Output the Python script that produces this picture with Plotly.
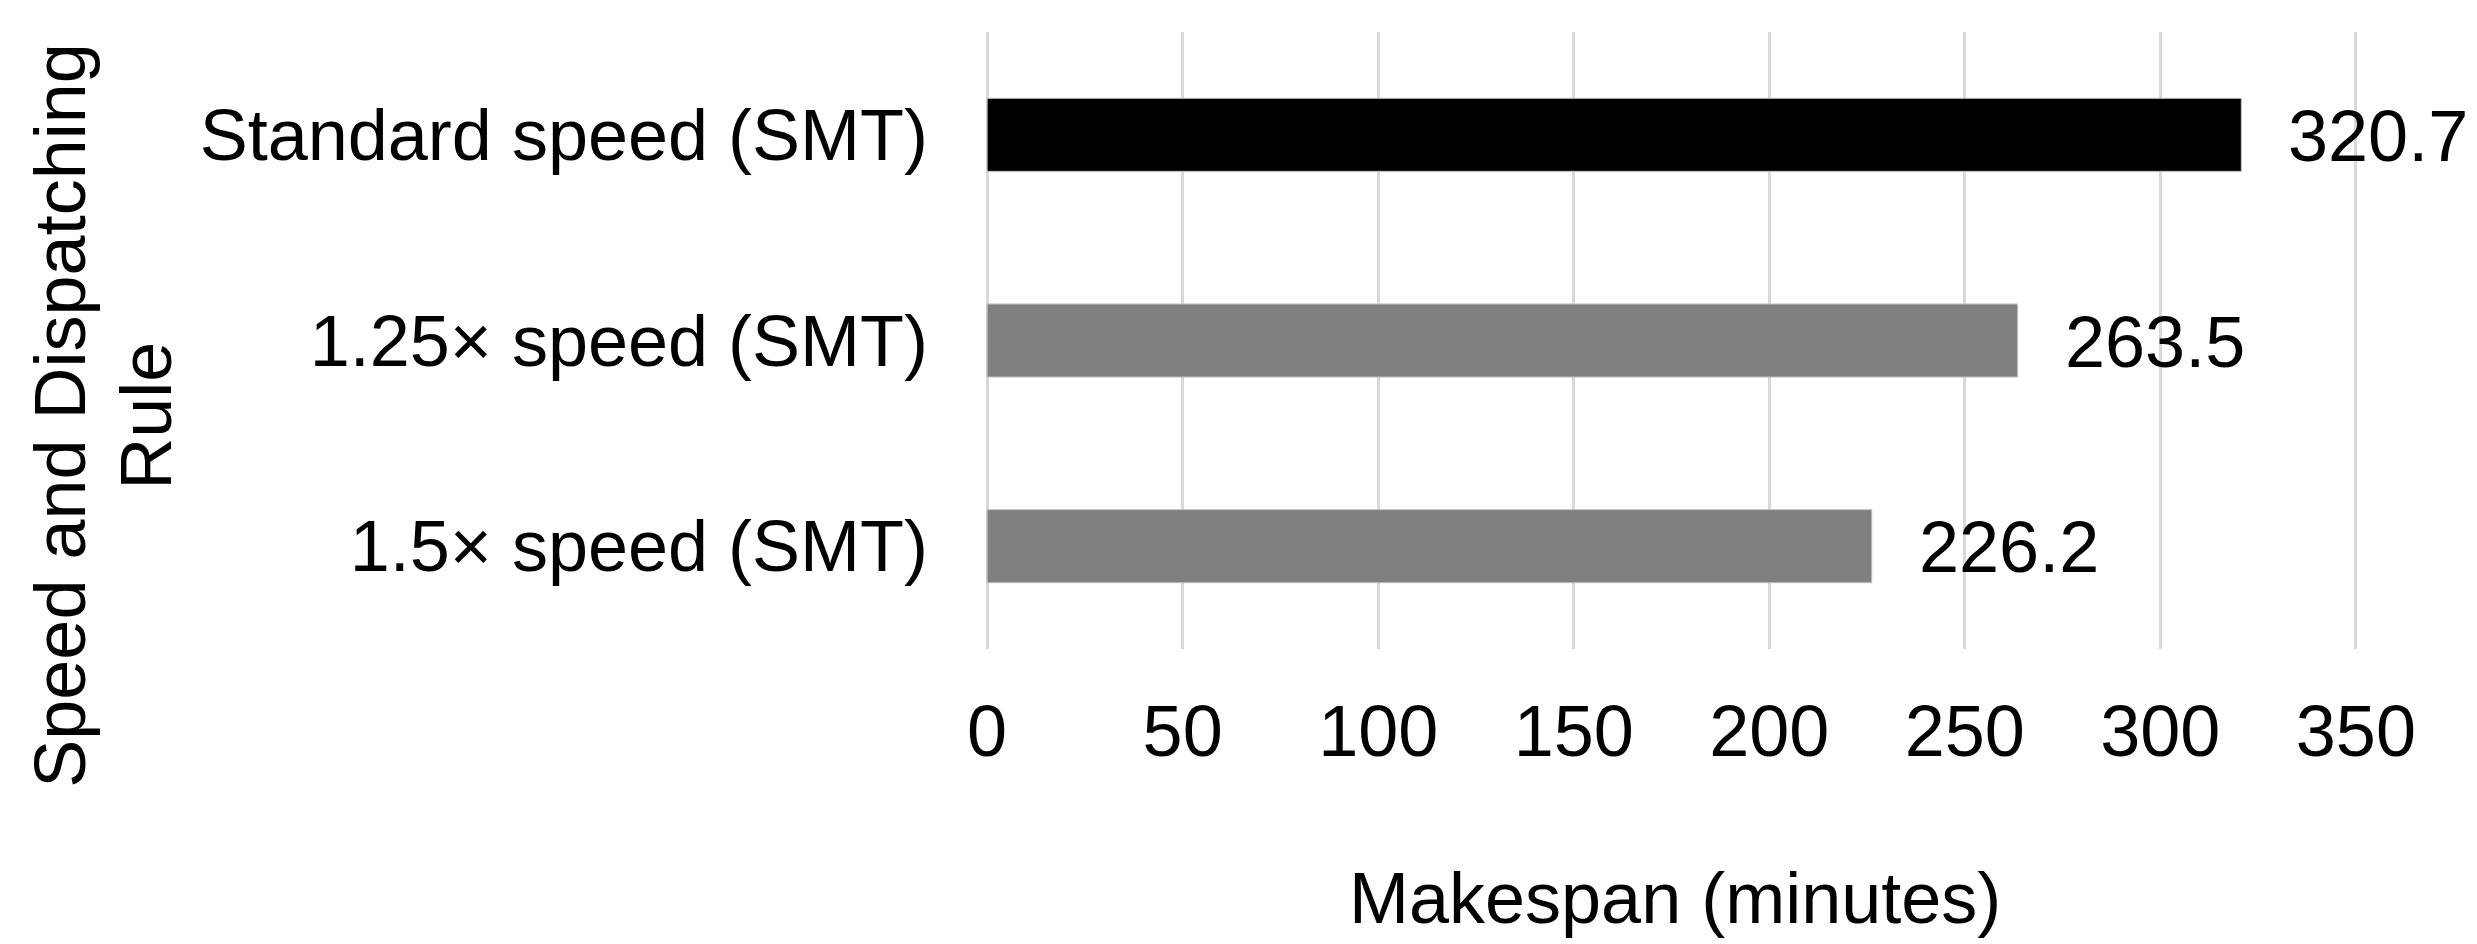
import plotly.graph_objects as go

categories = ["Standard speed (SMT)", "1.25× speed (SMT)", "1.5× speed (SMT)"]
makespan = [320.7, 263.5, 226.2]
bar_colors = ["#000000", "#808080", "#808080"]
x_ticks = [0, 50, 100, 150, 200, 250, 300, 350]
value_labels = ["320.7", "263.5", "226.2"]
y_title_lines = ["Speed and Dispatching", "Rule"]
x_title = "Makespan (minutes)"

FONT = "Liberation Sans, Arial, sans-serif"
FS = 72

fig = go.Figure()
fig.add_trace(go.Bar(
    y=categories, x=makespan, orientation="h",
    marker=dict(color=bar_colors, line=dict(color="#bfbfbf", width=1)),
    width=0.355, showlegend=False, hoverinfo="x+y",
))

for c, v, t in zip(categories, makespan, value_labels):
    fig.add_annotation(x=v, y=c, xref="x", yref="y", text=t, showarrow=False,
                       xanchor="left", yanchor="middle", xshift=45, yshift=-1,
                       font=dict(family=FONT, size=FS, color="#000000"))

for line, xs in zip(y_title_lines, [-924, -838]):
    fig.add_annotation(text=line, textangle=-90,
                       xref="paper", yref="paper", x=0, y=0.378, xshift=xs,
                       xanchor="center", yanchor="middle", showarrow=False,
                       font=dict(family=FONT, size=FS, color="#000000"))

fig.add_annotation(text=x_title, xref="paper", yref="paper",
                   x=0.5, y=-0.403, xanchor="center", yanchor="middle", xshift=3,
                   showarrow=False, font=dict(family=FONT, size=FS, color="#000000"))

fig.update_layout(
    width=2469, height=936,
    margin=dict(l=976, r=118, t=24, b=295),
    paper_bgcolor="white", plot_bgcolor="white",
    font=dict(family=FONT, size=FS, color="#000000"),
    xaxis=dict(range=[-0.8, 350.8], tickvals=x_ticks, showgrid=True,
               gridcolor="#d9d9d9", gridwidth=3, zeroline=False,
               showline=False, ticks="", ticklabelstandoff=34,
               tickfont=dict(family=FONT, size=FS, color="#000000")),
    yaxis=dict(autorange="reversed", showgrid=False, zeroline=False,
               showline=False, ticks="", ticklabelstandoff=55,
               tickfont=dict(family=FONT, size=FS, color="#000000")),
)

fig.write_html("out.html")
